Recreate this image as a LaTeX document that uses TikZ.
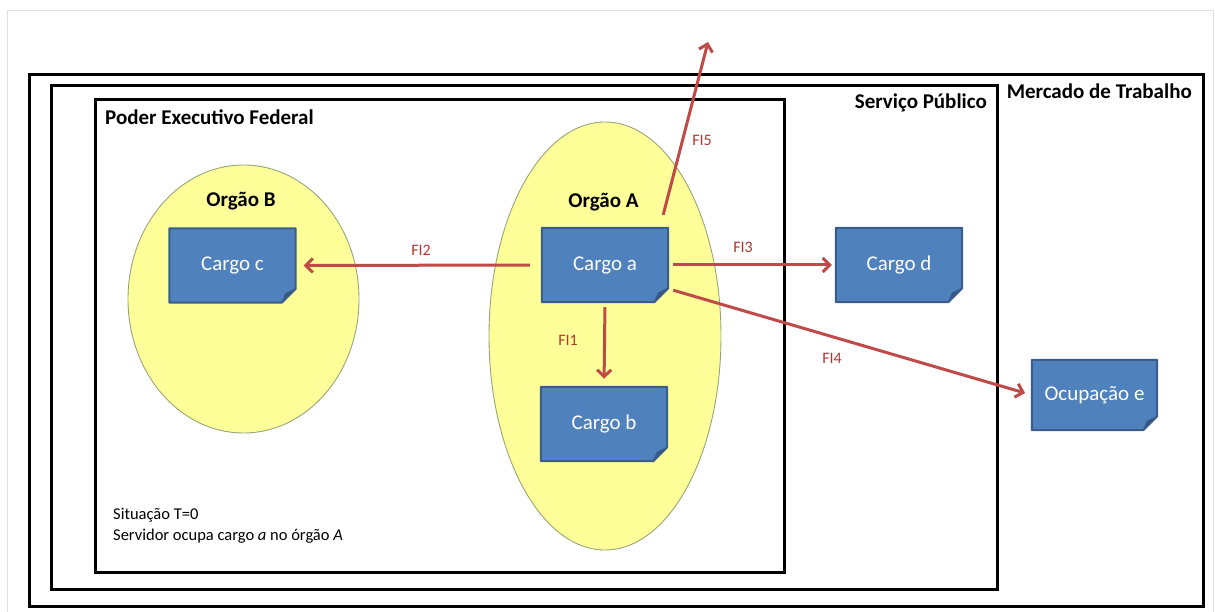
\documentclass[tikz,border=0pt]{standalone}
\usepackage{fontspec}
\setmainfont{Carlito}
\usetikzlibrary{shapes.geometric,arrows.meta,calc}
\pgfdeclarelayer{bg}
\pgfdeclarelayer{mid}
\pgfsetlayers{bg,mid,main}

\definecolor{cargofill}{RGB}{79,129,189}
\definecolor{cargoline}{RGB}{56,93,138}
\definecolor{foldcol}{RGB}{52,86,128}
\definecolor{orgfill}{RGB}{255,255,153}
\definecolor{orgline}{RGB}{150,165,120}
\definecolor{flowcol}{RGB}{190,75,72}
\definecolor{flowtext}{RGB}{175,55,48}
\definecolor{pageline}{RGB}{225,225,225}

\begin{document}
\begin{tikzpicture}[x=1pt,y=-1pt,
  frame/.style={draw=black, line width=3pt, inner sep=0pt, outer sep=0pt},
  lbl/.style={font=\fontsize{21}{25}\selectfont\bfseries, inner sep=0pt},
  orgao/.style={ellipse, draw=orgline, line width=0.9pt, fill=orgfill, inner sep=0pt},
  cargo/.style={minimum width=126pt, minimum height=74pt, inner sep=0pt,
    text=white, font=\fontsize{21}{25}\selectfont},
  cargobody/.style={fill=cargofill, draw=cargoline, line width=2pt, line join=round},
  cargofold/.style={fill=foldcol, draw=cargoline, line width=1pt, line join=round},
  flow/.style={draw=flowcol, line width=3pt,
    -{Straight Barb[length=7pt,width=14pt]}},
  fl/.style={text=flowtext, font=\fontsize{16}{19}\selectfont, inner sep=0pt},
  note/.style={font=\fontsize{16.5}{20}\selectfont, inner sep=0pt, anchor=base west}]

\useasboundingbox (0,0) rectangle (1215,612);

% thin page border
\draw[pageline, line width=1pt] (7,612) -- (7,11) -- (1213,11) -- (1213,612);

% nested frames and the two organs
\begin{pgfonlayer}{bg}
  \node[frame, minimum width=1174pt, minimum height=531pt] (mercado) at (616,340.5) {};
  \node[frame, minimum width=946pt, minimum height=503pt] (servico) at (524,337.5) {};
  \node[frame, minimum width=689pt, minimum height=472pt] (poder) at (439.5,336) {};
  \node[orgao, minimum width=231pt, minimum height=268pt] (orgB) at (243.5,299) {};
  \node[orgao, minimum width=232pt, minimum height=428pt] (orgA) at (605,336) {};
\end{pgfonlayer}

\node[lbl, anchor=base east] (mercadoLbl) at (1192,99) {Mercado de Trabalho};
\node[lbl, anchor=base east] (servicoLbl) at (987,109) {Serviço Público};
\node[lbl, anchor=base west] (poderLbl) at (105,125) {Poder Executivo Federal};
\node[lbl, anchor=base] (orgBLbl) at (241,207) {Orgão B};
\node[lbl, anchor=base] (orgALbl) at (603.5,208) {Orgão A};

% posts and occupation
\node[cargo] (ca) at (605,265) {Cargo a};
\node[cargo] (cb) at (604,424) {Cargo b};
\node[cargo] (cc) at (232.5,265.5) {Cargo c};
\node[cargo] (cd) at (899,265) {Cargo d};
\node[cargo, minimum width=125pt, minimum height=70pt] (oe) at (1094.5,395) {Ocupação e};

% note-shaped bodies with folded corner
\begin{pgfonlayer}{mid}
  \foreach \n in {ca,cb,cc,cd,oe}{
    \path[cargobody] (\n.north west) -- (\n.north east)
      -- ($(\n.south east)+(0,-14)$) -- ($(\n.south east)+(-14,0)$)
      -- (\n.south west) -- cycle;
    \path[cargofold] ($(\n.south east)+(0,-14)$) -- ($(\n.south east)+(-14,0)$)
      -- ($(\n.south east)+(-10,-9)$) -- cycle;
  }
\end{pgfonlayer}

% flows
\coordinate (exitTop) at (708,42);
\draw[flow, shorten <=12pt, shorten >=8pt] (ca.west) -- (cc.east);
\draw[flow, shorten <=5pt, shorten >=4pt] (ca.east) -- (cd.west);
\draw[flow, shorten <=5pt, shorten >=8pt] (ca.south) -- (cb.north);
\draw[flow, shorten >=7pt] ([xshift=5pt,yshift=12pt]ca.south east) -- (oe.west);
\draw[flow] ([xshift=-5pt,yshift=13pt]ca.north east) -- (exitTop);

\node[fl] (fi1) at (568,340) {FI1};
\node[fl] (fi2) at (421,250) {FI2};
\node[fl] (fi3) at (743,247) {FI3};
\node[fl] (fi4) at (832,358) {FI4};
\node[fl] (fi5) at (702,140) {FI5};

\node[note] (sit1) at (113,519) {Situação T=0};
\node[note] (sit2) at (113,540) {Servidor ocupa cargo \textit{a} no órgão \textit{A}};
\end{tikzpicture}
\end{document}
